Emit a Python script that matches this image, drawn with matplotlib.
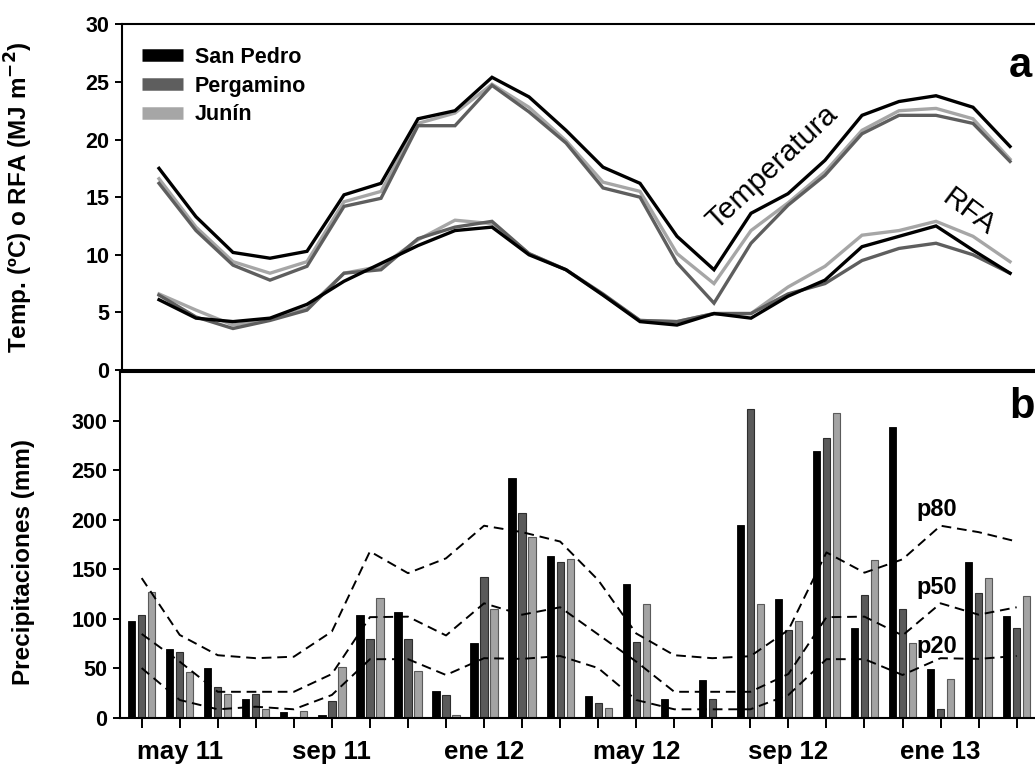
import matplotlib
matplotlib.use("Agg")
import matplotlib.pyplot as plt
from matplotlib.lines import Line2D
import numpy as np

plt.rcParams['font.family'] = ['Liberation Sans', 'DejaVu Sans']
plt.rcParams['font.weight'] = 'bold'
plt.rcParams['axes.labelweight'] = 'bold'

# months: abr 2011 ... mar 2013
month_idx = np.arange(24)
tick_label_pos = [1, 5, 9, 13, 17, 21]
tick_labels = ['may 11', 'sep 11', 'ene 12', 'may 12', 'sep 12', 'ene 13']
stations = ['San Pedro', 'Pergamino', 'Junín']

temp_sp = [17.5, 13.3, 10.2, 9.7, 10.3, 15.2, 16.2, 21.8, 22.5, 25.4, 23.7, 20.8,
           17.6, 16.2, 11.6, 8.7, 13.6, 15.3, 18.2, 22.1, 23.3, 23.8, 22.8, 19.4]
temp_pe = [16.2, 12.1, 9.1, 7.8, 9.0, 14.2, 14.9, 21.2, 21.2, 24.7, 22.4, 19.7,
           15.8, 15.0, 9.3, 5.8, 11.0, 14.3, 16.9, 20.5, 22.1, 22.1, 21.4, 18.1]
temp_ju = [16.6, 12.4, 9.4, 8.4, 9.4, 14.6, 15.5, 21.4, 22.3, 24.8, 22.8, 19.9,
           16.3, 15.5, 10.1, 7.5, 12.1, 14.5, 17.2, 20.8, 22.5, 22.7, 21.8, 18.3]

rfa_sp = [6.1, 4.5, 4.2, 4.5, 5.7, 7.7, 9.25, 10.8, 12.1, 12.4, 10.0, 8.7,
          6.5, 4.2, 3.9, 4.9, 4.5, 6.4, 7.8, 10.7, 11.6, 12.5, 10.4, 8.4]
rfa_pe = [6.5, 4.6, 3.6, 4.3, 5.2, 8.4, 8.7, 11.4, 12.4, 12.9, 10.1, 8.7,
          6.6, 4.3, 4.2, 4.9, 4.9, 6.6, 7.5, 9.5, 10.55, 11.0, 10.0, 8.4]
rfa_ju = [6.6, 5.2, 3.9, 4.4, 5.35, 8.4, 9.0, 11.3, 13.0, 12.7, 10.1, 8.7,
          6.5, 4.3, 4.2, 4.9, 4.9, 7.2, 9.0, 11.7, 12.1, 12.9, 11.6, 9.4]

pp_sp = [98, 69, 50, 19, 6, 2.5, 104, 106.5, 27, 75, 242, 163,
         22, 135, 18.4, 38, 195, 120, 270, 91, 294, 49, 157, 103]
pp_pe = [104, 66, 31, 24, 1, 17, 79, 79, 23, 142.5, 207, 157,
         15, 76, 0, 18.4, 312, 89, 283, 124, 110, 9, 126, 91]
pp_ju = [127, 46, 24, 9, 7, 51, 121, 47, 2.5, 110, 183, 160,
         10, 115, 0, 0, 115, 98, 308, 159, 75, 39, 141, 123]

p80 = [141, 83.5, 63, 60, 61.5, 87, 168, 146, 161, 194, 187.5, 178,
       139, 85, 63, 60, 62, 88.5, 167, 146.5, 160, 194, 187.5, 178]
p50 = [84.5, 56.5, 26, 26, 26, 44, 101.5, 102, 83, 115.5, 104, 111.5,
       84, 56.5, 26, 26, 26, 44, 101.5, 102, 83, 115.5, 104, 111.5]
p20 = [50, 17.7, 8.3, 10.9, 8.3, 22.8, 59, 59, 43, 60, 59.3, 62.2,
       50, 17.7, 8.3, 8.3, 8.3, 22.8, 59, 59, 43, 60, 59.3, 62.2]

c_sp, c_pe, c_ju = '#000000', '#5e5e5e', '#a6a6a6'

fig = plt.figure(figsize=(10.35, 7.65), dpi=100)
ax1 = fig.add_axes([122 / 1035, 1 - 370 / 765, 925 / 1035, 345.7 / 765])
ax2 = fig.add_axes([120 / 1035, 1 - 717.5 / 765, 934.7 / 1035, 346 / 765])

# ---- panel a: temperature and RFA
for series, col, z in [(temp_ju, c_ju, 2), (temp_pe, c_pe, 3), (temp_sp, c_sp, 4),
                       (rfa_ju, c_ju, 2), (rfa_pe, c_pe, 3), (rfa_sp, c_sp, 4)]:
    ax1.plot(month_idx, series, color=col, lw=2.4, zorder=z, solid_joinstyle='miter')

ax1.set_xlim(-1, 24)
ax1.set_ylim(0, 30)
ax1.set_yticks(np.arange(0, 31, 5))
ax1.set_xticks(month_idx)
ax1.set_xticklabels([])
ax1.tick_params(axis='both', direction='out', width=1.4, length=5, labelsize=15.5, pad=4)
for s in ax1.spines.values():
    s.set_linewidth(1.5)
ax1.set_ylabel('Temp. (ºC) o RFA (MJ m$^{\\mathbf{-2}}$)', fontsize=17.5)
ax1.yaxis.set_label_coords(-0.094, 0.5)

handles = [Line2D([0], [0], color=c, lw=9, solid_capstyle='butt') for c in (c_sp, c_pe, c_ju)]
ax1.legend(handles, stations, loc='upper left', bbox_to_anchor=(0.022, 0.935),
           frameon=False, fontsize=15.5, handlelength=1.9, handletextpad=0.55,
           labelspacing=0.36, borderpad=0, borderaxespad=0)

ax1.text(16.56, 17.6, 'Temperatura', rotation=43, fontsize=21.5, fontweight='normal',
         ha='center', va='center')
ax1.text(21.87, 13.7, 'RFA', rotation=-37, fontsize=21.5, fontweight='normal',
         ha='center', va='center')
ax1.text(23.27, 26.4, 'a', fontsize=30, fontweight='bold', ha='center', va='center')

# ---- panel b: precipitation
bw = 0.19
off = 0.263
ax2.bar(month_idx - off, pp_sp, bw, color=c_sp, edgecolor='#000000', lw=0.6, zorder=2)
ax2.bar(month_idx, pp_pe, bw, color='#5a5a5a', edgecolor='#2e2e2e', lw=0.8, zorder=2)
ax2.bar(month_idx + off, pp_ju, bw, color='#a3a3a3', edgecolor='#5a5a5a', lw=0.8, zorder=2)

for series in (p80, p50, p20):
    ax2.plot(month_idx, series, color='black', lw=1.4, dashes=(5, 3), zorder=3)

ax2.text(20.9, 210, 'p80', fontsize=17, ha='center', va='center')
ax2.text(20.9, 132, 'p50', fontsize=17, ha='center', va='center')
ax2.text(20.9, 72, 'p20', fontsize=17, ha='center', va='center')
ax2.text(23.13, 314, 'b', fontsize=30, fontweight='bold', ha='center', va='center')

ax2.set_xlim(-0.57, 24.0)
ax2.set_ylim(0, 350)
ax2.set_yticks(np.arange(0, 301, 50))
ax2.set_xticks(month_idx)
xlabels = ['' for _ in month_idx]
for pos, lab in zip(tick_label_pos, tick_labels):
    xlabels[pos] = lab
ax2.set_xticklabels(xlabels, fontsize=18.5)
ax2.tick_params(axis='x', direction='out', width=1.4, length=7, pad=9)
ax2.tick_params(axis='y', direction='out', width=1.4, length=5, labelsize=15.5, pad=4)
for s in ax2.spines.values():
    s.set_linewidth(1.5)
ax2.set_ylabel('Precipitaciones (mm)', fontsize=17.5)
ax2.yaxis.set_label_coords(-0.091, 0.45)

fig.savefig('out.png', dpi=100)
